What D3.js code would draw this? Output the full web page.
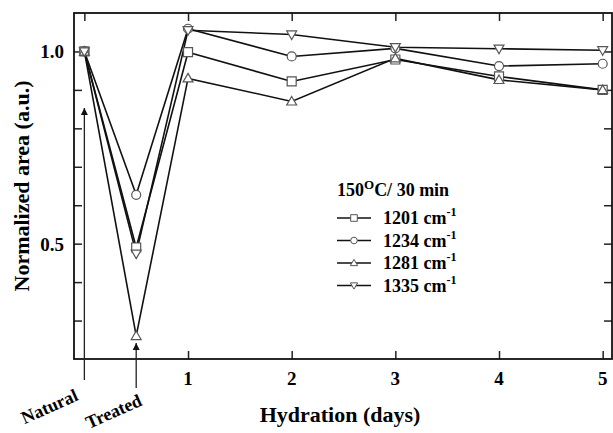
<!DOCTYPE html>
<html>
<head>
<script src="https://cdnjs.cloudflare.com/ajax/libs/d3/7.8.5/d3.min.js"></script>
<style>
  body { margin: 0; background: #fff; }
  text { font-family: "Liberation Serif", "Times New Roman", serif; font-weight: bold; }
</style>
</head>
<body>
<svg id="chart" width="613" height="433"></svg>
<script>
// x: 0 = Natural, 0.5 = Treated, then days 1..5
var xs = [0, 0.5, 1, 2, 3, 4, 5];
var s1201 = [1.0, 0.49, 0.998, 0.922, 0.979, 0.935, 0.90];
var s1234 = [1.0, 0.627, 1.059, 0.987, 1.008, 0.962, 0.968];
var s1281 = [1.0, 0.26, 0.93, 0.87, 0.982, 0.926, 0.90];
var s1335 = [1.0, 0.474, 1.055, 1.044, 1.011, 1.007, 1.003];
var seriesNames = ["1201", "1234", "1281", "1335"];
var xTickVals = [0, 1, 2, 3, 4, 5];
var xTickLabels = ["", "1", "2", "3", "4", "5"];
var yTickVals = [0.2, 0.3, 0.4, 0.5, 0.6, 0.7, 0.8, 0.9, 1.0, 1.1];
var yLabelVals = [0.5, 1.0];

var series = [
  {name: seriesNames[0], vals: s1201, sym: "square"},
  {name: seriesNames[1], vals: s1234, sym: "circle"},
  {name: seriesNames[2], vals: s1281, sym: "up"},
  {name: seriesNames[3], vals: s1335, sym: "down"}
];

var svg = d3.select("#chart");
var L = 74, R = 612, T = 13, B = 359;

var x = d3.scaleLinear().domain([-0.1, 5.09]).range([L, R]);
var y = d3.scaleLinear().domain([0.2, 1.1]).range([B, T]);

// marker path generator
function marker(sym, r) {
  if (sym == "square") return "M" + (-r) + "," + (-r) + "h" + 2*r + "v" + 2*r + "h" + (-2*r) + "Z";
  if (sym == "circle") return d3.symbol().type(d3.symbolCircle).size(Math.PI * r * r)();
  if (sym == "up") return "M0," + (-r*1.1) + "L" + (r*1.1) + "," + (r*0.8) + "L" + (-r*1.1) + "," + (r*0.8) + "Z";
  return "M0," + (r*1.1) + "L" + (r*1.1) + "," + (-r*0.8) + "L" + (-r*1.1) + "," + (-r*0.8) + "Z";
}

// axes: ticks point inward on all four sides
var tk = 8;
svg.append("g").attr("transform", "translate(0," + B + ")")
  .call(d3.axisTop(x).tickValues(xTickVals.slice(1)).tickSize(tk).tickFormat(""));
svg.append("g").attr("transform", "translate(0," + T + ")")
  .call(d3.axisBottom(x).tickValues(xTickVals).tickSize(tk).tickFormat(""));
svg.append("g").attr("transform", "translate(" + L + ",0)")
  .call(d3.axisRight(y).tickValues(yTickVals.slice(1, -1)).tickSize(tk).tickFormat(""));
svg.append("g").attr("transform", "translate(" + R + ",0)")
  .call(d3.axisLeft(y).tickValues(yTickVals.slice(1, -1)).tickSize(tk).tickFormat(""));
svg.selectAll(".domain").remove();
svg.selectAll(".tick line").attr("stroke", "#222").attr("stroke-width", 1.5);

svg.append("rect").attr("x", L).attr("y", T).attr("width", R - L).attr("height", B - T)
  .attr("fill", "none").attr("stroke", "#111").attr("stroke-width", 1.8);

// tick labels
svg.selectAll(".xl").data(xTickVals).enter().append("text")
  .attr("x", function(d) { return x(d); }).attr("y", 385)
  .attr("text-anchor", "middle").attr("font-size", 19)
  .text(function(d, i) { return xTickLabels[i]; });
svg.selectAll(".yl").data(yLabelVals).enter().append("text")
  .attr("x", 64).attr("y", function(d) { return y(d) + 7; })
  .attr("text-anchor", "end").attr("font-size", 19)
  .text(function(d) { return d3.format(".1f")(d); });

// axis titles
svg.append("text").attr("x", 340).attr("y", 422).attr("text-anchor", "middle")
  .attr("font-size", 22).text("Hydration (days)");
svg.append("text").attr("transform", "translate(29,186) rotate(-90)")
  .attr("text-anchor", "middle").attr("font-size", 22).text("Normalized area (a.u.)");

// arrows for Natural and Treated
svg.append("defs").append("marker").attr("id", "ah")
  .attr("viewBox", "0 0 10 10").attr("refX", 10).attr("refY", 5)
  .attr("markerWidth", 7).attr("markerHeight", 9).attr("orient", "auto")
  .attr("markerUnits", "userSpaceOnUse")
  .append("path").attr("d", "M0,0L10,5L0,10Z").attr("fill", "#111");
svg.append("line").attr("x1", x(0)).attr("x2", x(0)).attr("y1", 380).attr("y2", 108)
  .attr("stroke", "#222").attr("stroke-width", 1.3).attr("marker-end", "url(#ah)");
svg.append("line").attr("x1", x(0.5)).attr("x2", x(0.5)).attr("y1", 388).attr("y2", 343)
  .attr("stroke", "#222").attr("stroke-width", 1.3).attr("marker-end", "url(#ah)");
svg.append("text").attr("transform", "translate(52,412) rotate(-24)")
  .attr("text-anchor", "middle").attr("font-size", 18).text("Natural");
svg.append("text").attr("transform", "translate(116,417) rotate(-24)")
  .attr("text-anchor", "middle").attr("font-size", 18).text("Treated");

// lines and markers
var line = d3.line().x(function(d) { return x(d[0]); }).y(function(d) { return y(d[1]); });
series.forEach(function(s) {
  var pts = xs.map(function(v, i) { return [v, s.vals[i]]; });
  svg.append("path").datum(pts).attr("d", line)
    .attr("fill", "none").attr("stroke", "#111").attr("stroke-width", 1.6);
});
series.forEach(function(s) {
  var pts = xs.map(function(v, i) { return [v, s.vals[i]]; });
  svg.selectAll(null).data(pts).enter().append("path")
    .attr("d", marker(s.sym, 4.5))
    .attr("transform", function(d) { return "translate(" + x(d[0]) + "," + y(d[1]) + ")"; })
    .attr("fill", "#fff").attr("stroke", "#555").attr("stroke-width", 1.2);
});

// legend
var lg = svg.append("g");
var tt = lg.append("text").attr("x", 337).attr("y", 196).attr("font-size", 18);
tt.append("tspan").text("150");
tt.append("tspan").attr("dy", -7).attr("font-size", 13).text("O");
tt.append("tspan").attr("dy", 7).text("C/ 30 min");
series.forEach(function(s, i) {
  var yy = 218 + i * 22.5;
  lg.append("line").attr("x1", 337).attr("x2", 371).attr("y1", yy).attr("y2", yy)
    .attr("stroke", "#111").attr("stroke-width", 1.6);
  lg.append("path").attr("d", marker(s.sym, 3.3)).attr("transform", "translate(354," + yy + ")")
    .attr("fill", "#fff").attr("stroke", "#555").attr("stroke-width", 1);
  var t = lg.append("text").attr("x", 383).attr("y", yy + 6).attr("font-size", 18);
  t.append("tspan").text(s.name + " cm");
  t.append("tspan").attr("dy", -8).attr("font-size", 12).text("-1");
});
</script>
</body>
</html>
